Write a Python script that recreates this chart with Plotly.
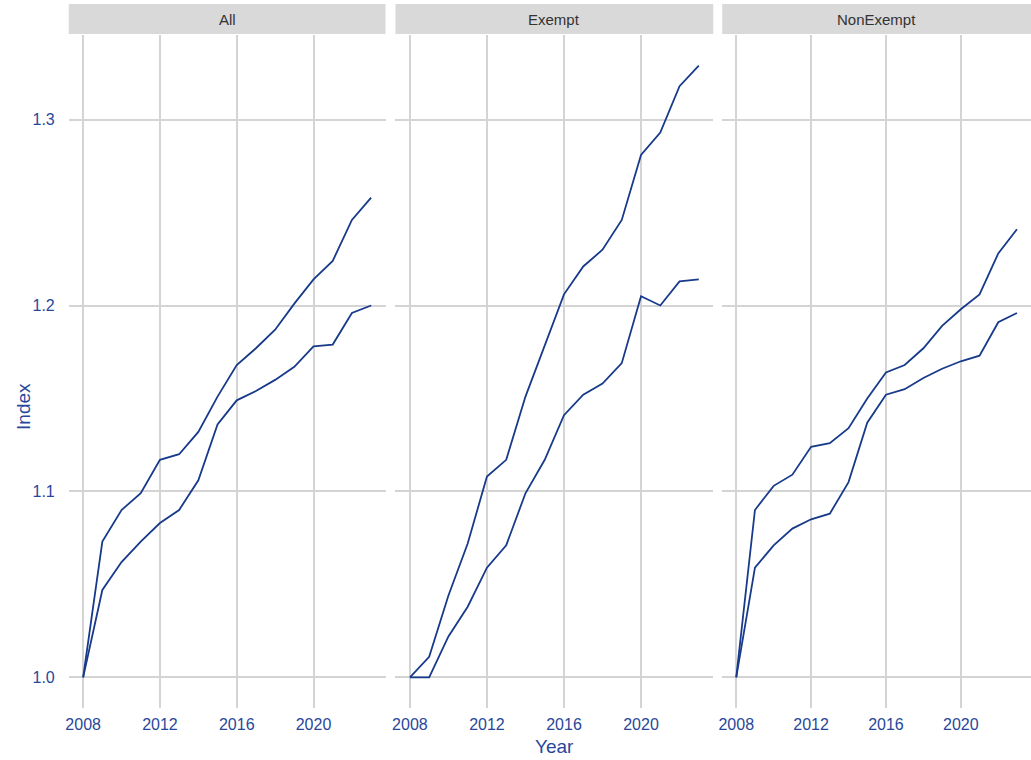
import plotly.graph_objects as go

# Index series by panel, base year 2008 = 1.0
years = list(range(2008, 2024))
panels = ["All", "Exempt", "NonExempt"]

all_upper = [1.000, 1.073, 1.090, 1.099, 1.117, 1.120, 1.132, 1.151, 1.168, 1.177,
             1.187, 1.201, 1.214, 1.224, 1.246, 1.258]
all_lower = [1.000, 1.047, 1.062, 1.073, 1.083, 1.090, 1.106, 1.136, 1.149, 1.154,
             1.160, 1.167, 1.178, 1.179, 1.196, 1.200]

exempt_upper = [1.000, 1.011, 1.044, 1.072, 1.108, 1.117, 1.151, 1.178, 1.206, 1.221,
                1.230, 1.246, 1.281, 1.293, 1.318, 1.329]
exempt_lower = [1.000, 1.000, 1.022, 1.038, 1.059, 1.071, 1.099, 1.117, 1.141, 1.152,
                1.158, 1.169, 1.205, 1.200, 1.213, 1.214]

nonexempt_upper = [1.000, 1.090, 1.103, 1.109, 1.124, 1.126, 1.134, 1.150, 1.164, 1.168,
                   1.177, 1.189, 1.198, 1.206, 1.228, 1.241]
nonexempt_lower = [1.000, 1.059, 1.071, 1.080, 1.085, 1.088, 1.105, 1.137, 1.152, 1.155,
                   1.161, 1.166, 1.170, 1.173, 1.191, 1.196]

series = {
    "All": [all_upper, all_lower],
    "Exempt": [exempt_upper, exempt_lower],
    "NonExempt": [nonexempt_upper, nonexempt_lower],
}

x_ticks = [2008, 2012, 2016, 2020]
y_ticks = [1.0, 1.1, 1.2, 1.3]

LINE = "#173a8a"
TEXT = "#28479a"
GRID = "#d4d4d4"
STRIP = "#d9d9d9"
FONT = "Liberation Sans, Arial"

W, H = 1031, 760
panel_px = [(65, 383), (393, 712), (721, 1031)]
plot_top, plot_bottom = 35, 708
strip_top, strip_bottom = 4, 34

fig = go.Figure()
layout_axes = {}
shapes = []
annotations = []

for i, name in enumerate(panels):
    xa = "x" if i == 0 else f"x{i + 1}"
    ya = "y" if i == 0 else f"y{i + 1}"
    for vals in series[name]:
        fig.add_trace(go.Scatter(
            x=years, y=vals, mode="lines",
            line=dict(color=LINE, width=1.8),
            xaxis=xa, yaxis=ya, showlegend=False, hoverinfo="x+y",
        ))
    x0, x1 = panel_px[i]
    dom = [x0 / W, x1 / W]
    suffix = "" if i == 0 else str(i + 1)
    layout_axes[f"xaxis{suffix}"] = dict(
        domain=dom, range=[2007.25, 2023.75], anchor=ya,
        tickvals=x_ticks, ticktext=[str(t) for t in x_ticks],
        showgrid=True, gridcolor=GRID, gridwidth=1.5,
        zeroline=False, showline=False, ticks="",
        ticklabelstandoff=5,
        tickfont=dict(family=FONT, size=16, color=TEXT),
    )
    layout_axes[f"yaxis{suffix}"] = dict(
        domain=[(H - plot_bottom) / H, (H - plot_top) / H],
        range=[0.9835, 1.3455], anchor=xa,
        tickvals=y_ticks, ticktext=[f"{t:.1f}" for t in y_ticks],
        showticklabels=(i == 0),
        showgrid=True, gridcolor=GRID, gridwidth=1.5,
        zeroline=False, showline=False, ticks="",
        ticklabelstandoff=13,
        tickfont=dict(family=FONT, size=16, color=TEXT),
    )
    # facet strip
    shapes.append(dict(
        type="rect", xref="paper", yref="paper",
        x0=x0 / W, x1=x1 / W,
        y0=(H - strip_bottom) / H, y1=(H - strip_top) / H,
        fillcolor=STRIP, line=dict(width=0), layer="below",
    ))
    annotations.append(dict(
        text=name, xref="paper", yref="paper",
        x=(x0 + x1) / 2 / W, y=(H - (strip_top + strip_bottom) / 2) / H,
        showarrow=False, xanchor="center", yanchor="middle",
        font=dict(family=FONT, size=15, color="#333333"),
    ))

annotations.append(dict(
    text="Year", xref="paper", yref="paper", x=553 / W, y=(H - 746) / H,
    showarrow=False, xanchor="center", yanchor="middle",
    font=dict(family=FONT, size=19, color=TEXT),
))
annotations.append(dict(
    text="Index", xref="paper", yref="paper", x=19 / W, y=(H - 406) / H,
    showarrow=False, xanchor="center", yanchor="middle", textangle=-90,
    font=dict(family=FONT, size=19, color=TEXT),
))

fig.update_layout(
    width=W, height=H,
    margin=dict(l=0, r=0, t=0, b=0),
    paper_bgcolor="white", plot_bgcolor="white",
    shapes=shapes, annotations=annotations,
    **layout_axes,
)

fig.write_html("out.html")
